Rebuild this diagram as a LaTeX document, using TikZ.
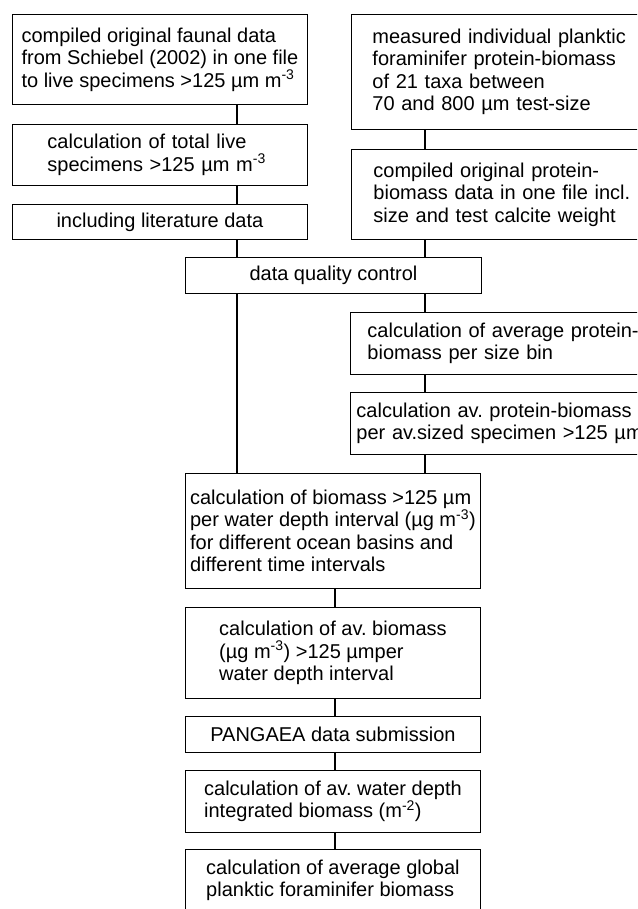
\documentclass[tikz,border=0pt]{standalone}
\usepackage{fontspec}
\setmainfont{Liberation Sans}

\begin{document}
\begin{tikzpicture}[x=1pt, y=-1pt,
        every node/.style={font=\fontsize{20}{22.5}\selectfont\frenchspacing},
        box/.style={draw, line width=0.9pt, rectangle, anchor=north west, align=left, inner xsep=2pt, inner ysep=0pt, minimum width=295pt},
        sidebox/.style={box, text width=300pt},
        link/.style={line width=2pt}]
        \useasboundingbox (0,0) rectangle (637,909);
        \clip (0,0) rectangle (637,909);

        \coordinate (lx) at (237,0);
        \coordinate (rx) at (424.5,0);
        \coordinate (mx) at (335,0);

        \node[box, minimum height=90pt] (faunal) at (12,14) {compiled original faunal data\\from Schiebel (2002) in one file\\to live specimens >125 µm m\textsuperscript{-3}};
        \node[box, text width=225pt, inner xsep=35pt, minimum height=61pt] (total) at (12,124) {calculation of total live\\specimens >125 µm m\textsuperscript{-3}};
        \node[box, minimum height=35pt] (lit) at (12,204) {including literature data};

        \node[sidebox, inner xsep=21pt, minimum height=115pt] (measured) at (351,14) {measured individual planktic\\foraminifer protein-biomass\\of 21 taxa between\\70 and 800 µm test-size};
        \node[sidebox, inner xsep=22pt, minimum height=90pt] (protein) at (351,149) {compiled original protein-\\biomass data in one file incl.\\size and test calcite weight};

        \node[box, minimum width=296pt, minimum height=36pt] (quality) at (185,257) {data quality control};

        \node[sidebox, inner xsep=17pt, minimum height=62pt] (avgbin) at (350,312) {calculation of average protein-\\biomass per size bin};
        \node[sidebox, inner xsep=6pt, minimum height=62pt] (avspec) at (350,392) {calculation av. protein-biomass\\per av.sized specimen >125 µm};

        \node[box, minimum height=115pt] (biomass) at (185,473) {calculation of biomass >125 µm\\per water depth interval (µg m\textsuperscript{-3})\\for different ocean basins and\\different time intervals};
        \node[box, minimum height=91pt] (avbiomass) at (185,607) {calculation of av. biomass\\(µg m\textsuperscript{-3}) >125 µmper\\water depth interval};
        \node[box, minimum height=36pt] (pangaea) at (185,716) {PANGAEA data submission};
        \node[box, minimum height=62pt] (integrated) at (185,770) {calculation of av. water depth\\integrated biomass (m\textsuperscript{-2})};
        \node[box, minimum height=62pt] (global) at (185,849) {calculation of average global\\planktic foraminifer biomass};

        \draw[link] (faunal.south -| lx) -- (total.north -| lx);
        \draw[link] (total.south -| lx) -- (lit.north -| lx);
        \draw[link] (lit.south -| lx) -- (quality.north -| lx);
        \draw[link] (measured.south -| rx) -- (protein.north -| rx);
        \draw[link] (protein.south -| rx) -- (quality.north -| rx);
        \draw[link] (quality.south -| lx) -- (biomass.north -| lx);
        \draw[link] (quality.south -| rx) -- (avgbin.north -| rx);
        \draw[link] (avgbin.south -| rx) -- (avspec.north -| rx);
        \draw[link] (avspec.south -| rx) -- (biomass.north -| rx);
        \draw[link] (biomass.south -| mx) -- (avbiomass.north -| mx);
        \draw[link] (avbiomass.south -| mx) -- (pangaea.north -| mx);
        \draw[link] (pangaea.south -| mx) -- (integrated.north -| mx);
        \draw[link] (integrated.south -| mx) -- (global.north -| mx);
\end{tikzpicture}
\end{document}
